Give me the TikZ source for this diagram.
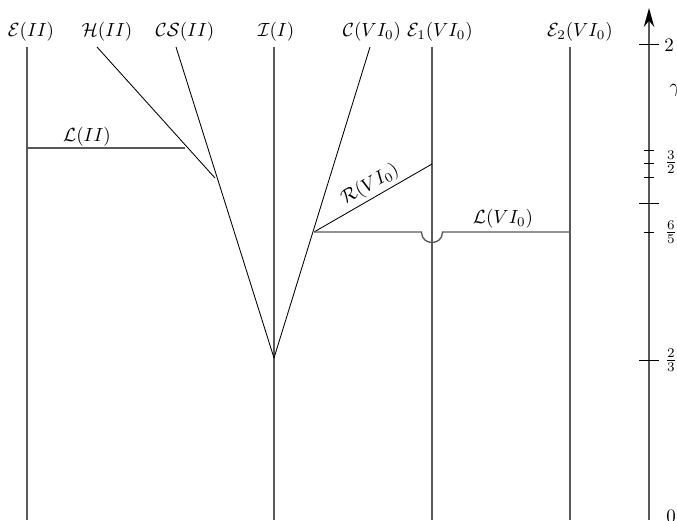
\documentclass[tikz,border=0pt]{standalone}
\usetikzlibrary{arrows.meta}
\begin{document}
\begin{tikzpicture}[x=0.526pt,y=-0.526pt,
  vline/.style={draw=black!65,line width=0.7pt},
  sline/.style={draw=black,line width=0.45pt},
  lab/.style={inner sep=0pt,font=\normalsize},
  tick/.style={draw=black,line width=0.5pt}]
\useasboundingbox (0,0) rectangle (677,520);
% labels on top
\node[lab] (lE) at (31,32) {$\mathcal{E}(II)$};
\node[lab] (lH) at (107,32) {$\mathcal{H}(II)$};
\node[lab] (lCS) at (185,32) {$\mathcal{CS}(II)$};
\node[lab] (lI) at (276,32) {$\mathcal{I}(I)$};
\node[lab] (lC) at (372,32) {$\mathcal{C}(V I_0)$};
\node[lab] (lE1) at (440,32) {$\mathcal{E}_1(V I_0)$};
\node[lab] (lE2) at (580,32) {$\mathcal{E}_2(V I_0)$};
% coordinates
\coordinate (Et) at (27,47);  \coordinate (Eb) at (27,520);
\coordinate (It) at (274,47); \coordinate (Ib) at (274,520);
\coordinate (E1t) at (432,47); \coordinate (E1b) at (432,520);
\coordinate (E2t) at (570,47); \coordinate (E2b) at (570,520);
\coordinate (Ht) at (97,47);  \coordinate (He) at (215,178);
\coordinate (CSt) at (176,47);
\coordinate (Ct) at (370,47);
\coordinate (V) at (274,358);
\coordinate (P) at (314,232);
\coordinate (R) at (432,164);
\coordinate (LIIa) at (27,148); \coordinate (LIIb) at (185,148);
\coordinate (Lend) at (570,232);
% vertical lines
\draw[vline] (Et) -- (Eb);
\draw[vline] (It) -- (Ib);
\draw[vline] (E1t) -- (E1b);
\draw[vline] (E2t) -- (E2b);
% slanted lines
\draw[sline] (Ht) -- (He);
\draw[sline] (CSt) -- (V);
\draw[sline] (Ct) -- (V);
\draw[sline] (P) -- node[above=1.5pt,sloped,lab,pos=0.53] (lR) {$\mathcal{R}(V I_0)$} (R);
% horizontal lines
\draw[vline] (LIIa) -- (LIIb);
\node[lab] (lL2) at (87,137) {$\mathcal{L}(II)$};
\draw[vline] (P) -- (421.5,232) .. controls (421.5,246) and (442.5,246) .. (442.5,232) -- (Lend);
\node[lab] (lL6) at (503,219) {$\mathcal{L}(V I_0)$};
% axis
\coordinate (Ab) at (649,520);
\coordinate (At) at (649,8);
\draw[vline,-{Stealth[length=10pt,width=5.5pt,black]}] (Ab) -- (At);
\draw[tick] (639,44) -- (659,44);
\draw[tick] (644,150) -- (654,150);
\draw[tick] (644,163) -- (654,163);
\draw[tick] (644,177) -- (654,177);
\draw[tick] (639,203) -- (659,203);
\draw[tick] (644,232) -- (654,232);
\draw[tick] (639,360) -- (659,360);
\node[lab] (t2) at (669,45) {$2$};
\node[lab] (tg) at (675,90) {$\gamma$};
\node[lab] (t32) at (671,162) {$\frac{3}{2}$};
\node[lab] (t65) at (671,232) {$\frac{6}{5}$};
\node[lab] (t23) at (671,360) {$\frac{2}{3}$};
\node[lab] (t0) at (671,516) {$0$};
\end{tikzpicture}
\end{document}
